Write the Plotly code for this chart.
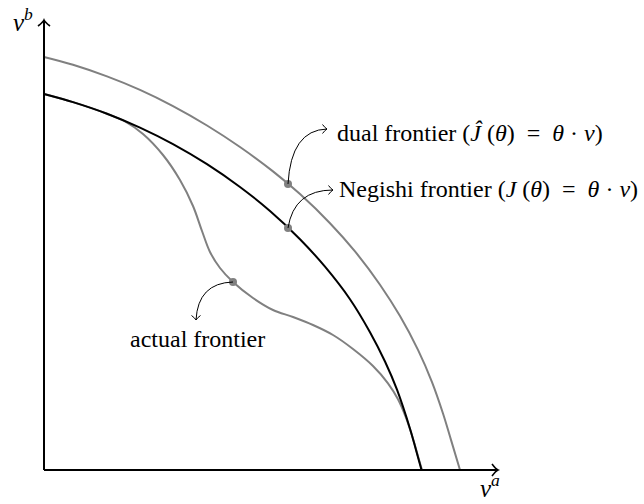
import plotly.graph_objects as go

# Frontier curves in utility space (v^a, v^b)
negishi_va = [0.00, 0.29, 0.63, 0.96, 1.29, 1.63, 1.96, 2.26, 2.56, 2.81, 3.06, 3.26, 3.41, 3.53, 3.66, 3.72, 3.775]
negishi_vb = [3.76, 3.679, 3.563, 3.424, 3.259, 3.058, 2.83, 2.59, 2.308, 2.033, 1.708, 1.378, 1.085, 0.803, 0.413, 0.20, 0.00]

dual_va = [0.00, 0.29, 0.63, 0.96, 1.29, 1.63, 1.96, 2.29, 2.56, 2.86, 3.11, 3.36, 3.56, 3.74, 3.88, 3.99, 4.07, 4.16]
dual_vb = [4.13, 4.052, 3.936, 3.801, 3.639, 3.445, 3.23, 2.986, 2.759, 2.468, 2.186, 1.853, 1.539, 1.201, 0.879, 0.565, 0.301, 0.00]

actual_va = [0.00, 0.29, 0.63, 0.81, 0.99, 1.19, 1.36, 1.49, 1.58, 1.66, 1.76, 1.89, 2.09, 2.29,
             2.49, 2.69, 2.89, 3.09, 3.29, 3.44, 3.54, 3.62, 3.69, 3.74, 3.78]
actual_vb = [3.76, 3.679, 3.563, 3.485, 3.36, 3.15, 2.90, 2.64, 2.39, 2.18, 2.02, 1.88, 1.72, 1.60,
             1.53, 1.45, 1.35, 1.21, 1.04, 0.867, 0.707, 0.523, 0.313, 0.138, 0.00]

# Highlighted points on each frontier
dual_pt = (2.44, 2.86)
negishi_pt = (2.44, 2.42)
actual_pt = (1.89, 1.88)

GRAY = "#808080"
FONT = "Liberation Serif"

fig = go.Figure()

for xs, ys, col in [(actual_va, actual_vb, GRAY),
                    (negishi_va, negishi_vb, "black"),
                    (dual_va, dual_vb, GRAY)]:
    fig.add_trace(go.Scatter(x=xs, y=ys, mode="lines",
                             line=dict(color=col, width=2, shape="spline", smoothing=1.0),
                             hoverinfo="skip"))

fig.add_trace(go.Scatter(x=[dual_pt[0], negishi_pt[0], actual_pt[0]],
                         y=[dual_pt[1], negishi_pt[1], actual_pt[1]],
                         mode="markers", marker=dict(color=GRAY, size=8),
                         hoverinfo="skip"))

shapes = []

# Axes
shapes.append(dict(type="line", x0=0, y0=0, x1=4.54, y1=0, line=dict(color="black", width=2)))
shapes.append(dict(type="line", x0=0, y0=0, x1=0, y1=4.50, line=dict(color="black", width=2)))


def tip(x, y, dx, dy, s=0.055, width=1.0):
    """Open curved arrow tip at (x, y) pointing along unit vector (dx, dy)."""
    px, py = -dy, dx
    bx, by = x - dx * s, y - dy * s
    w1 = (bx + px * s, by + py * s)
    w2 = (bx - px * s, by - py * s)
    c1 = (x - dx * s * 0.35 + px * s * 0.15, y - dy * s * 0.35 + py * s * 0.15)
    c2 = (x - dx * s * 0.35 - px * s * 0.15, y - dy * s * 0.35 - py * s * 0.15)
    path = (f"M {w1[0]},{w1[1]} Q {c1[0]},{c1[1]} {x},{y} "
            f"Q {c2[0]},{c2[1]} {w2[0]},{w2[1]}")
    return dict(type="path", path=path, line=dict(color="black", width=width))


shapes.append(tip(4.54, 0, 1, 0, s=0.06, width=1.6))
shapes.append(tip(0, 4.50, 0, 1, s=0.06, width=1.6))


# Curved pointers from the marked points to their labels
def bend(p0, ctrl, p1):
    return dict(type="path",
                path=f"M {p0[0]},{p0[1]} Q {ctrl[0]},{ctrl[1]} {p1[0]},{p1[1]}",
                line=dict(color="black", width=1))


dual_end = (2.83, 3.41)
negi_end = (2.89, 2.80)
act_end = (1.52, 1.50)
shapes.append(bend(dual_pt, (2.47, 3.40), dual_end))
shapes.append(tip(dual_end[0], dual_end[1], 1, 0, s=0.045))
shapes.append(bend(negishi_pt, (2.50, 2.80), negi_end))
shapes.append(tip(negi_end[0], negi_end[1], 1, 0, s=0.045))
shapes.append(bend(actual_pt, (1.54, 1.87), act_end))
shapes.append(tip(act_end[0], act_end[1], 0, -1, s=0.045))

EQ = "\u2002=\u2002"
annotations = [
    dict(x=2.91, y=3.37,
         text=f"dual frontier (<i>Ĵ</i> (<i>θ</i>){EQ}<i>θ</i> · <i>v</i>)",
         xanchor="left", yanchor="middle", showarrow=False,
         font=dict(family=FONT, size=24, color="black")),
    dict(x=2.93, y=2.81,
         text=f"Negishi frontier (<i>J</i> (<i>θ</i>){EQ}<i>θ</i> · <i>v</i>)",
         xanchor="left", yanchor="middle", showarrow=False,
         font=dict(family=FONT, size=24, color="black")),
    dict(x=1.53, y=1.31, text="actual frontier",
         xanchor="center", yanchor="middle", showarrow=False,
         font=dict(family=FONT, size=24, color="black")),
    dict(x=4.46, y=-0.16, text="<i>v</i><sup><i>a</i></sup>",
         xanchor="center", yanchor="middle", showarrow=False,
         font=dict(family=FONT, size=25, color="black")),
    dict(x=-0.21, y=4.50, text="<i>v</i><sup><i>b</i></sup>",
         xanchor="center", yanchor="middle", showarrow=False,
         font=dict(family=FONT, size=25, color="black")),
]

fig.update_layout(
    width=644, height=504,
    margin=dict(l=0, r=0, t=0, b=0),
    paper_bgcolor="white", plot_bgcolor="white",
    showlegend=False,
    shapes=shapes,
    annotations=annotations,
    xaxis=dict(range=[-0.44, 6.00], visible=False, fixedrange=True),
    yaxis=dict(range=[-0.34, 4.70], visible=False, fixedrange=True),
)

fig.write_html("out.html")
